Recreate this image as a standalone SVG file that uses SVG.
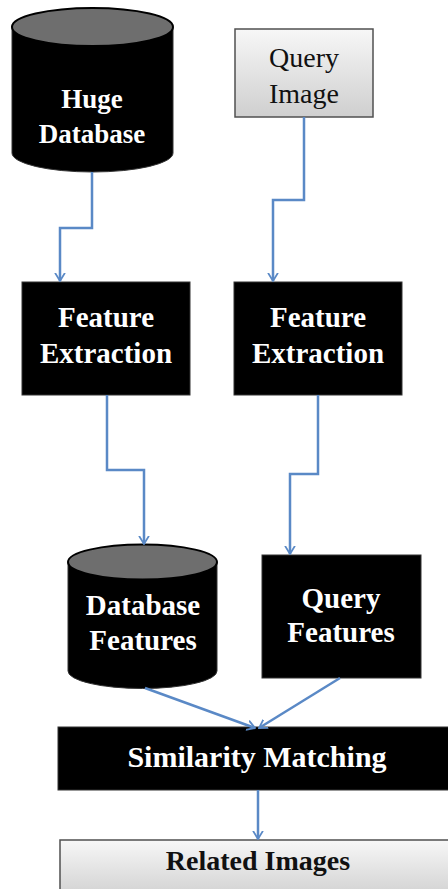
<svg xmlns="http://www.w3.org/2000/svg" width="448" height="889" viewBox="0 0 448 889">
<style>
.blk{fill:#000;stroke:#333;stroke-width:1}
.lt{fill:#fff;font-family:"Liberation Serif","Times New Roman",serif;font-weight:bold;text-anchor:middle}
.dk{fill:#111;font-family:"Liberation Serif","Times New Roman",serif;text-anchor:middle}
.cap{fill:#6e6e6e;stroke:#000;stroke-width:2}
.con{fill:none;stroke:#5a89c6;stroke-width:2.5;marker-end:url(#ah)}
.gbox{fill:url(#gg);stroke:#505050;stroke-width:1.5}
</style>
<defs>
<linearGradient id="gg" x1="0" y1="0" x2="0" y2="1">
<stop offset="0" stop-color="#f7f7f7"/>
<stop offset="1" stop-color="#cfcfcf"/>
</linearGradient>
<marker id="ah" viewBox="0 0 10 12" refX="9" refY="6" markerWidth="9" markerHeight="12" orient="auto" markerUnits="userSpaceOnUse">
<path d="M0,0.5 L9,6 L0,11.5" fill="none" stroke="#5a89c6" stroke-width="2"/>
</marker>
</defs>
<rect width="448" height="889" fill="#fff"/>
<g id="huge-database">
<path class="blk" d="M12,27 V153 A80.5,19 0 0 0 173,153 V27 Z"/>
<ellipse class="cap" cx="92.5" cy="27" rx="80.5" ry="19"/>
<text class="lt" x="92" y="108" font-size="27">Huge</text>
<text class="lt" x="92" y="143" font-size="27">Database</text>
</g>
<g id="query-image">
<rect class="gbox" x="235" y="29" width="138" height="88"/>
<text class="dk" x="304" y="67" font-size="28">Query</text>
<text class="dk" x="304" y="103" font-size="28">Image</text>
</g>
<g id="feature-extraction-1">
<rect class="blk" x="22" y="282" width="168" height="113"/>
<text class="lt" x="106" y="327" font-size="29">Feature</text>
<text class="lt" x="106" y="363" font-size="29">Extraction</text>
</g>
<g id="feature-extraction-2">
<rect class="blk" x="234" y="282" width="168" height="113"/>
<text class="lt" x="318" y="327" font-size="29">Feature</text>
<text class="lt" x="318" y="363" font-size="29">Extraction</text>
</g>
<g id="database-features">
<path class="blk" d="M68,562 V671 A74.5,17.5 0 0 0 217,671 V562 Z"/>
<ellipse class="cap" cx="142.5" cy="562" rx="74.5" ry="17.5"/>
<text class="lt" x="143" y="615" font-size="29">Database</text>
<text class="lt" x="143" y="650" font-size="29">Features</text>
</g>
<g id="query-features">
<rect class="blk" x="262" y="555" width="159" height="123"/>
<text class="lt" x="341" y="608" font-size="29">Query</text>
<text class="lt" x="341" y="642" font-size="29">Features</text>
</g>
<g id="similarity-matching">
<rect class="blk" x="58" y="727" width="400" height="63"/>
<text class="lt" x="257" y="767" font-size="30">Similarity Matching</text>
</g>
<g id="related-images">
<rect class="gbox" x="60" y="840" width="400" height="60"/>
<text class="dk" x="258" y="870" font-size="28" font-weight="bold">Related Images</text>
</g>
<g id="connectors">
<path class="con" d="M92,172 V228 H60 V281"/>
<path class="con" d="M304,117 V200 H273 V281"/>
<path class="con" d="M107,395 V470 H144 V544"/>
<path class="con" d="M318,395 V474 H290 V554"/>
<path class="con" d="M145,688 L255,728"/>
<path class="con" d="M340,678 L259,728"/>
<path class="con" d="M258,790 V839"/>
</g>
</svg>
